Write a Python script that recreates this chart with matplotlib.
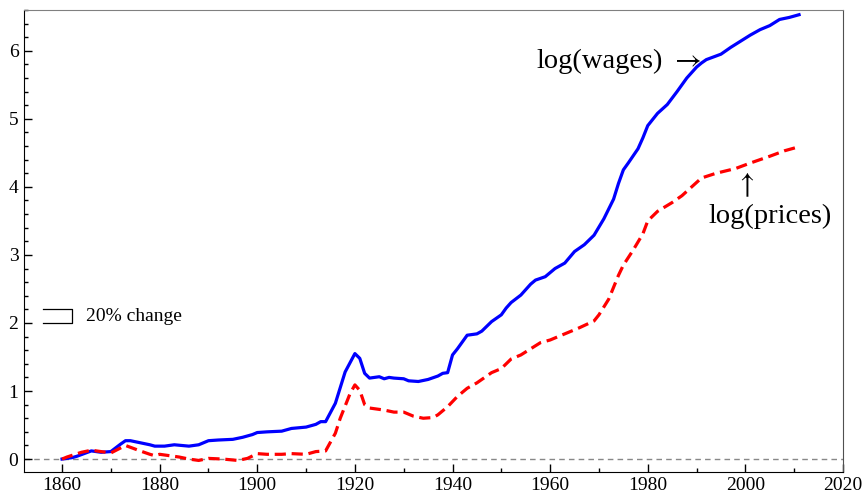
import matplotlib.pyplot as plt
from matplotlib.ticker import MultipleLocator

# wages (log)
wage_years = [1860, 1862, 1863, 1866, 1868, 1870, 1872, 1873, 1874, 1876, 1878, 1879,
              1881, 1883, 1886, 1888, 1890, 1892, 1895, 1897, 1899, 1900, 1902, 1905,
              1907, 1910, 1912, 1913, 1914, 1916, 1918, 1920, 1921, 1922, 1923, 1925,
              1926, 1927, 1928, 1930, 1931, 1933, 1935, 1937, 1938, 1939, 1940, 1941,
              1943, 1945, 1946, 1948, 1950, 1951, 1952, 1954, 1956, 1957, 1959, 1961,
              1963, 1965, 1967, 1969, 1971, 1973, 1974, 1975, 1976, 1978, 1979, 1980,
              1982, 1984, 1986, 1988, 1990, 1991, 1992, 1995, 1997, 1999, 2001, 2003,
              2005, 2007, 2009, 2011]
log_wages = [0.00, 0.02, 0.04, 0.12, 0.10, 0.11, 0.22, 0.27, 0.27, 0.24, 0.21, 0.19,
             0.19, 0.21, 0.19, 0.21, 0.27, 0.28, 0.29, 0.32, 0.36, 0.39, 0.40, 0.41,
             0.45, 0.47, 0.51, 0.55, 0.55, 0.82, 1.28, 1.55, 1.48, 1.26, 1.19, 1.21,
             1.18, 1.20, 1.19, 1.18, 1.15, 1.14, 1.17, 1.22, 1.26, 1.27, 1.53, 1.62,
             1.82, 1.84, 1.88, 2.02, 2.12, 2.22, 2.30, 2.41, 2.57, 2.63, 2.68, 2.80,
             2.88, 3.05, 3.15, 3.29, 3.53, 3.82, 4.05, 4.25, 4.35, 4.56, 4.72, 4.90,
             5.08, 5.21, 5.40, 5.60, 5.76, 5.82, 5.87, 5.95, 6.05, 6.14, 6.23, 6.31,
             6.37, 6.46, 6.49, 6.53]

# prices (log)
price_years = [1860, 1861, 1864, 1866, 1868, 1870, 1873, 1876, 1878, 1879, 1880, 1882,
               1884, 1886, 1888, 1890, 1893, 1896, 1898, 1900, 1902, 1905, 1907, 1910,
               1912, 1914, 1916, 1917, 1919, 1920, 1921, 1922, 1923, 1926, 1928, 1930,
               1932, 1934, 1936, 1937, 1939, 1941, 1943, 1945, 1948, 1950, 1952, 1954,
               1956, 1958, 1960, 1963, 1966, 1969, 1970, 1972, 1974, 1975, 1977, 1979,
               1980, 1982, 1985, 1987, 1989, 1991, 1994, 1998, 2001, 2005, 2008, 2011]
log_prices = [0.00, 0.03, 0.10, 0.13, 0.11, 0.09, 0.20, 0.12, 0.07, 0.05, 0.07, 0.05,
              0.03, 0.00, -0.02, 0.01, 0.00, -0.02, 0.01, 0.08, 0.07, 0.07, 0.08, 0.07,
              0.11, 0.12, 0.38, 0.60, 0.96, 1.09, 1.01, 0.80, 0.75, 0.72, 0.69, 0.69,
              0.63, 0.60, 0.61, 0.65, 0.77, 0.92, 1.04, 1.12, 1.27, 1.33, 1.47, 1.53,
              1.62, 1.71, 1.75, 1.84, 1.93, 2.03, 2.12, 2.35, 2.70, 2.85, 3.07, 3.31,
              3.50, 3.64, 3.77, 3.87, 4.00, 4.13, 4.20, 4.27, 4.35, 4.45, 4.53, 4.59]

serif = ['Liberation Serif', 'DejaVu Serif']
plt.rcParams['font.family'] = serif
plt.rcParams['mathtext.fontset'] = 'stix'

fig = plt.figure(figsize=(8.68, 4.97), dpi=100)
ax = fig.add_axes([0.0276, 0.0503, 0.9436, 0.9297])

ax.axhline(0, color='#888888', lw=1, ls=(0, (4, 3)), zorder=1)
ax.plot(wage_years, log_wages, color='#0000ff', lw=2.3, zorder=3)
ax.plot(price_years, log_prices, color='#ff0000', lw=2.3, ls=(0, (3.5, 1.8)), zorder=3)

# 20% change scale bar
ax.plot([1856.1, 1862.0, 1862.0, 1856.1], [2.2, 2.2, 2.0, 2.0], color='black', lw=0.9)
ax.text(1865.0, 2.1, '20% change', fontsize=14, va='center', ha='left')

ax.text(1983.0, 5.84, 'log(wages)', fontsize=20.5, va='center', ha='right')
ax.text(1984.6, 5.86, r'$\rightarrow$', fontsize=21, va='center', ha='left')
ax.text(1999.9, 4.03, r'$\uparrow$', fontsize=21, va='center', ha='center')
ax.text(2005.0, 3.57, 'log(prices)', fontsize=20.5, va='center', ha='center')

ax.set_xlim(1852.2, 2020)
ax.set_ylim(-0.19, 6.6)
ax.xaxis.set_major_locator(MultipleLocator(20))
ax.xaxis.set_minor_locator(MultipleLocator(10))
ax.yaxis.set_major_locator(MultipleLocator(1))
ax.yaxis.set_minor_locator(MultipleLocator(0.2))
ax.tick_params(which='both', direction='in', labelsize=14, width=1)
ax.tick_params(which='major', length=6)
ax.tick_params(which='minor', length=3)
ax.tick_params(axis='y', pad=4)

ax.spines['top'].set_color('#808080')
ax.spines['right'].set_color('#505050')

fig.savefig('out.png', dpi=100)
